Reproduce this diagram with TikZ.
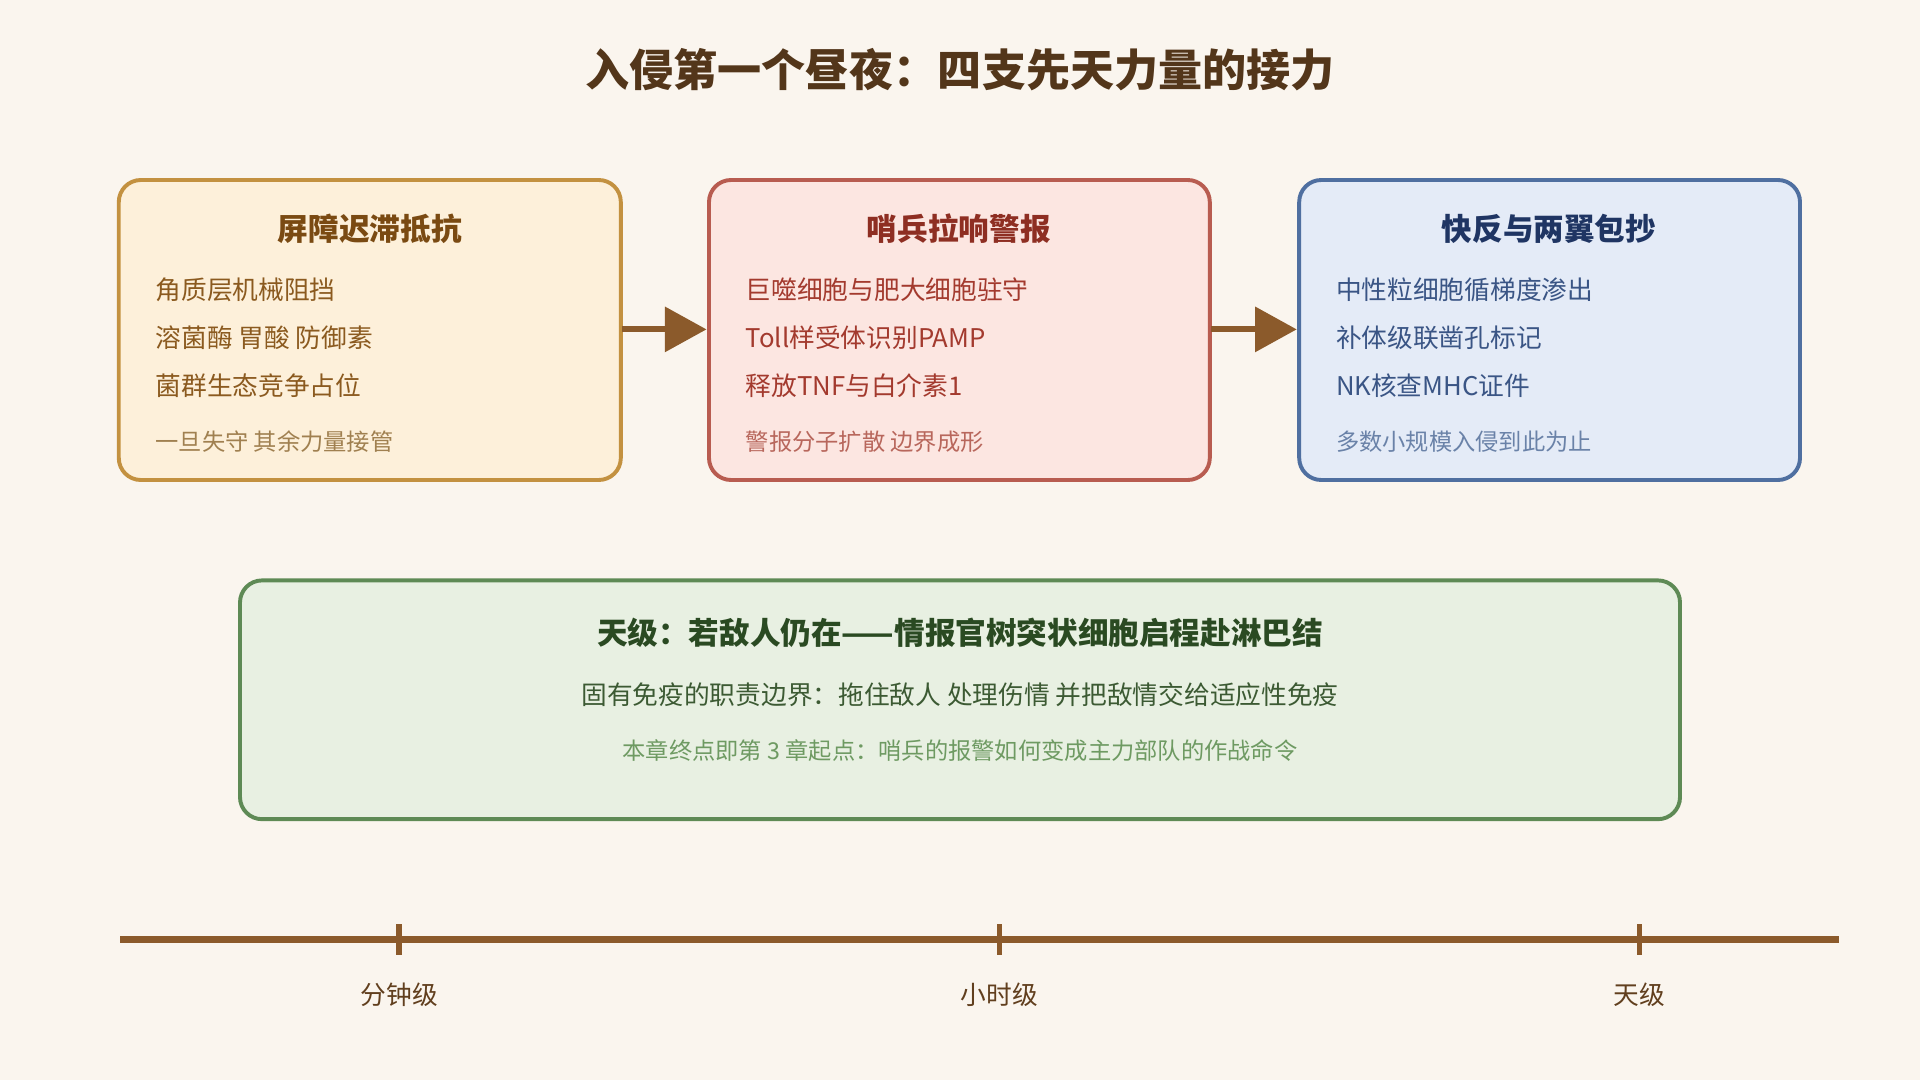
\documentclass[tikz,border=0pt]{standalone}
\usepackage{fontspec}
\setmainfont{Noto Sans CJK SC}
\usetikzlibrary{arrows.meta}
\definecolor{bg}{HTML}{FAF5EE}
\definecolor{brn}{HTML}{8B5A2B}
\definecolor{af}{HTML}{FDF0DA}\definecolor{ab}{HTML}{C39140}\definecolor{at}{HTML}{7A4A12}\definecolor{ax}{HTML}{8B5A1F}\definecolor{an}{HTML}{A08050}
\definecolor{bf}{HTML}{FCE6E1}\definecolor{bb}{HTML}{B85C50}\definecolor{bt}{HTML}{8E2E22}\definecolor{bx}{HTML}{A33A2E}\definecolor{bn}{HTML}{B8675C}
\definecolor{cf}{HTML}{E4EBF7}\definecolor{cb}{HTML}{4F6FA0}\definecolor{ct}{HTML}{1F3563}\definecolor{cx}{HTML}{3A5585}\definecolor{cn}{HTML}{6A82A8}
\definecolor{gf}{HTML}{E8F0E2}\definecolor{gb}{HTML}{5E8A55}\definecolor{gt}{HTML}{2A4A22}\definecolor{gx}{HTML}{3C5A33}\definecolor{gn}{HTML}{6E9A62}
\begin{document}
\begin{tikzpicture}[x=0.5pt,y=-0.5pt,
 box/.style={rounded corners=9pt,line width=1.6pt},
 ttl/.style={font=\fontsize{12.5}{14}\selectfont\bfseries},
 bod/.style={anchor=west,font=\fontsize{10.5}{12}\selectfont},
 nt/.style={anchor=west,font=\fontsize{9.5}{11}\selectfont},
 arr/.style={line width=2.5pt,brn,-{Triangle[length=17pt,width=18pt]}},
 tl/.style={font=\fontsize{10.5}{12}\selectfont,text=brn!70!black}]
\fill[bg] (0,0) rectangle (1568,882);
\node[font=\fontsize{18}{20}\selectfont\bfseries,text=brn!60!black] (title) at (784,57) {入侵第一个昼夜：四支先天力量的接力};
\draw[box,fill=af,draw=ab] (97,147) rectangle (507,392);
\node (a) at (302,269) {};
\node[ttl,text=at] (at) at (302,187) {屏障迟滞抵抗};
\node[bod,text=ax] (a1) at (120,237) {角质层机械阻挡};
\node[bod,text=ax] (a2) at (120,276) {溶菌酶 胃酸 防御素};
\node[bod,text=ax] (a3) at (120,315) {菌群生态竞争占位};
\node[nt,text=an] (a4) at (120,361) {一旦失守 其余力量接管};
\draw[box,fill=bf,draw=bb] (579,147) rectangle (988,392);
\node[ttl,text=bt] (bt) at (783,187) {哨兵拉响警报};
\node[bod,text=bx] (b1) at (602,237) {巨噬细胞与肥大细胞驻守};
\node[bod,text=bx] (b2) at (602,276) {Toll样受体识别PAMP};
\node[bod,text=bx] (b3) at (602,315) {释放TNF与白介素1};
\node[nt,text=bn] (b4) at (602,361) {警报分子扩散 边界成形};
\draw[box,fill=cf,draw=cb] (1061,147) rectangle (1470,392);
\node[ttl,text=ct] (ct) at (1265,187) {快反与两翼包抄};
\node[bod,text=cx] (c1) at (1084,237) {中性粒细胞循梯度渗出};
\node[bod,text=cx] (c2) at (1084,276) {补体级联凿孔标记};
\node[bod,text=cx] (c3) at (1084,315) {NK核查MHC证件};
\node[nt,text=cn] (c4) at (1084,361) {多数小规模入侵到此为止};
\coordinate (e1) at (508,269);\coordinate (s2) at (577,269);
\coordinate (e2) at (989,269);\coordinate (s3) at (1059,269);
\draw[arr] (e1) -- (s2);
\draw[arr] (e2) -- (s3);
\draw[box,fill=gf,draw=gb] (196,474) rectangle (1372,669);
\node[ttl,text=gt] (gt) at (784,517) {天级：若敌人仍在——情报官树突状细胞启程赴淋巴结};
\node[font=\fontsize{10.5}{12}\selectfont,text=gx] (g1) at (784,567) {固有免疫的职责边界：拖住敌人 处理伤情 并把敌情交给适应性免疫};
\node[font=\fontsize{9.5}{11}\selectfont,text=gn] (g2) at (784,613) {本章终点即第 3 章起点：哨兵的报警如何变成主力部队的作战命令};
\coordinate (l0) at (98,767);\coordinate (l1) at (1502,767);
\draw[brn,line width=2.8pt] (l0) -- (l1);
\foreach \x/\t/\n in {326/分钟级/t1,816/小时级/t2,1339/天级/t3}{
 \draw[brn,line width=2.2pt] (\x,755) -- (\x,780);
 \node[tl] (\n) at (\x,812) {\t};}
\end{tikzpicture}
\end{document}
